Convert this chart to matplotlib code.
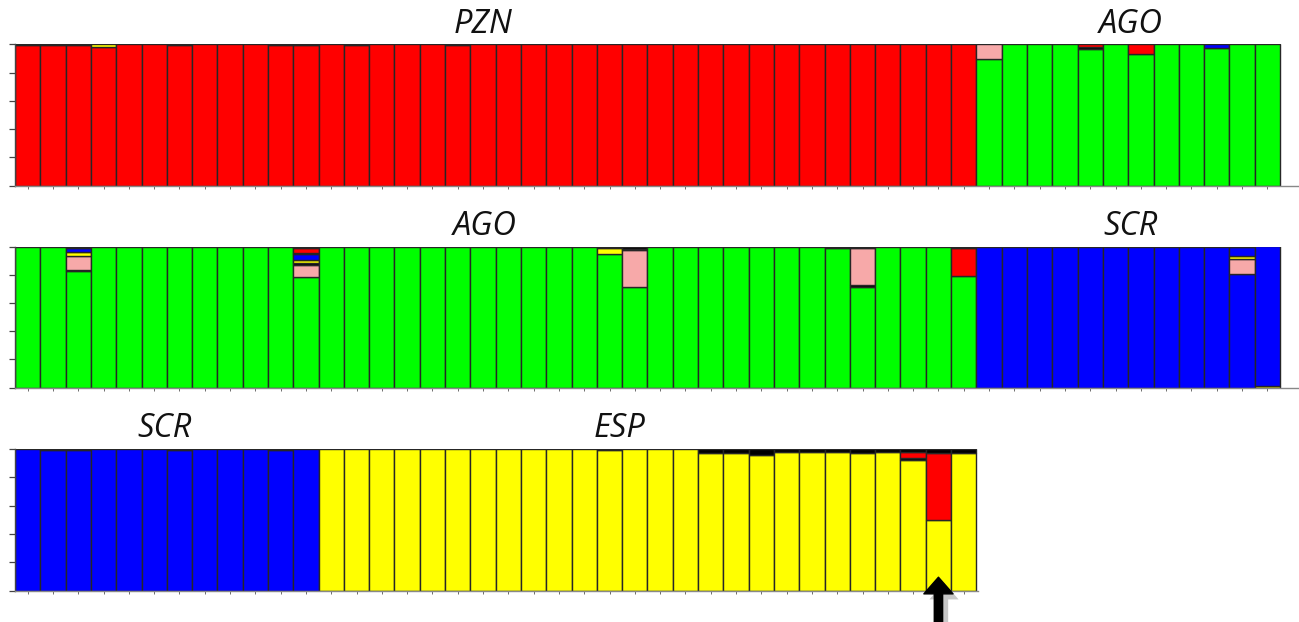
import matplotlib.pyplot as plt
import matplotlib.transforms as mtransforms
import matplotlib.patheffects as pe

# cluster colours
colors = {"R": "#ff0000", "G": "#00ff00", "B": "#0000ff", "Y": "#ffff00",
          "P": "#f7a9a9", "K": "#000000"}

# dominant cluster of each individual, row by row
row1_base = ["R"] * 38 + ["G"] * 12
row2_base = ["G"] * 38 + ["B"] * 12
row3_base = ["B"] * 12 + ["Y"] * 26

# admixed individuals: stack of (cluster, q) from bottom to top
row1_mixed = {
    0: [("R", 0.994), ("K", 0.006)],
    1: [("R", 0.994), ("K", 0.006)],
    2: [("R", 0.994), ("K", 0.006)],
    3: [("R", 0.985), ("Y", 0.015)],
    6: [("R", 0.994), ("K", 0.006)],
    10: [("R", 0.994), ("K", 0.006)],
    11: [("R", 0.994), ("K", 0.006)],
    13: [("R", 0.994), ("K", 0.006)],
    17: [("R", 0.994), ("K", 0.006)],
    38: [("G", 0.90), ("P", 0.10)],
    42: [("G", 0.97), ("K", 0.01), ("R", 0.02)],
    44: [("G", 0.93), ("R", 0.07)],
    47: [("G", 0.975), ("B", 0.025)],
}
row2_mixed = {
    2: [("G", 0.825), ("K", 0.01), ("P", 0.10), ("Y", 0.025), ("B", 0.03), ("K", 0.01)],
    11: [("G", 0.785), ("P", 0.085), ("K", 0.012), ("Y", 0.025), ("B", 0.04),
         ("K", 0.008), ("R", 0.035), ("K", 0.01)],
    23: [("G", 0.945), ("Y", 0.045), ("K", 0.01)],
    24: [("G", 0.71), ("P", 0.265), ("G", 0.01), ("K", 0.015)],
    32: [("G", 0.99), ("K", 0.01)],
    33: [("G", 0.715), ("K", 0.015), ("P", 0.26), ("K", 0.01)],
    37: [("G", 0.79), ("R", 0.20), ("K", 0.01)],
    48: [("B", 0.804), ("P", 0.11), ("Y", 0.02), ("B", 0.06), ("K", 0.006)],
    49: [("Y", 0.015), ("B", 0.985)],
}
row3_mixed = {
    1: [("B", 0.993), ("K", 0.007)],
    2: [("B", 0.993), ("K", 0.007)],
    6: [("B", 0.993), ("K", 0.007)],
    10: [("B", 0.993), ("K", 0.007)],
    23: [("Y", 0.99), ("K", 0.01)],
    27: [("Y", 0.97), ("K", 0.03)],
    28: [("Y", 0.975), ("K", 0.025)],
    29: [("Y", 0.955), ("K", 0.045)],
    30: [("Y", 0.98), ("K", 0.02)],
    31: [("Y", 0.98), ("K", 0.02)],
    32: [("Y", 0.98), ("K", 0.02)],
    33: [("Y", 0.97), ("K", 0.03)],
    34: [("Y", 0.98), ("K", 0.02)],
    35: [("Y", 0.925), ("K", 0.008), ("R", 0.045), ("K", 0.022)],
    36: [("Y", 0.50), ("R", 0.47), ("K", 0.03)],
    37: [("Y", 0.97), ("K", 0.03)],
}

# population labels (label, centre position in bar units)
row1_labels = [("PZN", 18.0), ("AGO", 43.6)]
row2_labels = [("AGO", 18.05), ("SCR", 43.6)]
row3_labels = [("SCR", 5.4), ("ESP", 23.4)]

marked_individual = 36  # row 3, arrow

W, H = 1299, 622
bar_px = 25.3

fig = plt.figure(figsize=(W / 100, H / 100), dpi=100)


def draw_row(top, bottom, right, base, mixed, labels):
    ax = fig.add_axes([15 / W, 1 - bottom / H, (right - 15) / W, (bottom - top) / H])
    for i, cl in enumerate(base):
        stack = mixed.get(i, [(cl, 1.0)])
        b = 0.0
        for c, q in stack:
            ax.bar(i, q, bottom=b, width=1.0, color=colors[c],
                   edgecolor="#262626", linewidth=1.0)
            b += q
    ax.set_xlim(-0.5, -0.5 + (right - 15) / bar_px)
    ax.set_ylim(0, 1)
    ax.set_xticks(range(len(base)))
    ax.set_yticks([0, 0.2, 0.4, 0.6, 0.8, 1.0])
    ax.set_xticklabels([])
    ax.set_yticklabels([])
    ax.tick_params(axis="x", length=2.5, width=0.6, color="#555555", direction="out")
    ax.tick_params(axis="y", length=4, width=0.9, color="#444444", direction="out")
    for s in ["top", "right"]:
        ax.spines[s].set_visible(False)
    ax.spines["left"].set_color("#444444")
    ax.spines["bottom"].set_color("#888888")
    ax.spines["left"].set_linewidth(1.0)
    ax.spines["bottom"].set_linewidth(1.0)
    trans = mtransforms.blended_transform_factory(ax.transData, ax.transAxes)
    for lab, x in labels:
        ax.text(x, 1.145, lab, transform=trans, ha="center", va="center",
                fontsize=23.5, style="italic", family="Open Sans", color="#111111")
    return ax


ax1 = draw_row(44.5, 185.5, 1299, row1_base, row1_mixed, row1_labels)
ax2 = draw_row(246.5, 387.7, 1299, row2_base, row2_mixed, row2_labels)
ax3 = draw_row(449, 590.5, 978, row3_base, row3_mixed, row3_labels)

ax3.annotate("", xy=(marked_individual, 0.094), xytext=(marked_individual, -0.32),
             arrowprops=dict(arrowstyle="simple,head_length=12,head_width=21,tail_width=6",
                             mutation_scale=1, fc="black", ec="black",
                             shrinkA=0, shrinkB=0,
                             path_effects=[pe.SimplePatchShadow(offset=(4, -4),
                                                                shadow_rgbFace="0.45",
                                                                alpha=0.4),
                                           pe.Normal()]),
             annotation_clip=False)

fig.savefig("out.png", dpi=100)
